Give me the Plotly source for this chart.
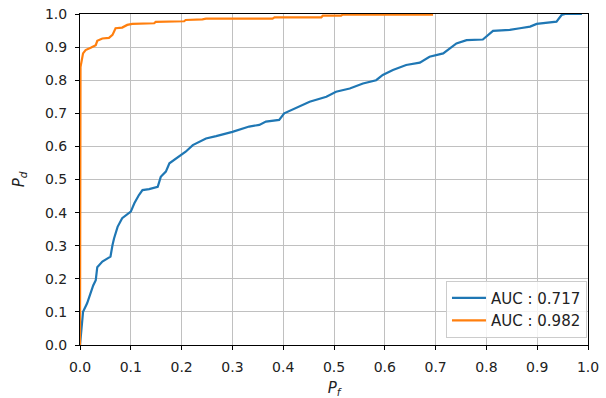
import plotly.graph_objects as go

# ROC curve 1 (AUC 0.717)
fpr_a = [0.0, 0.0, 0.003, 0.006, 0.014, 0.021, 0.026, 0.031, 0.034, 0.044, 0.06, 0.064,
         0.067, 0.074, 0.083, 0.1, 0.107, 0.116, 0.123, 0.136, 0.153, 0.159, 0.169, 0.176,
         0.189, 0.199, 0.208, 0.222, 0.248, 0.268, 0.3, 0.333, 0.353, 0.366, 0.392, 0.402,
         0.425, 0.452, 0.485, 0.504, 0.531, 0.557, 0.583, 0.596, 0.616, 0.642, 0.669, 0.688,
         0.715, 0.741, 0.761, 0.793, 0.813, 0.846, 0.866, 0.886, 0.899, 0.938, 0.948, 0.955,
         0.988]
tpr_a = [0.0, 0.0, 0.066, 0.10, 0.126, 0.161, 0.18, 0.196, 0.235, 0.252, 0.267, 0.302,
         0.322, 0.357, 0.383, 0.403, 0.428, 0.453, 0.468, 0.471, 0.478, 0.508, 0.524, 0.549,
         0.564, 0.574, 0.584, 0.604, 0.624, 0.631, 0.644, 0.66, 0.665, 0.675, 0.68, 0.70,
         0.715, 0.735, 0.75, 0.765, 0.775, 0.79, 0.80, 0.816, 0.831, 0.846, 0.853, 0.871,
         0.881, 0.911, 0.921, 0.923, 0.949, 0.952, 0.957, 0.962, 0.970, 0.977, 0.997, 1.0,
         1.0]

# ROC curve 2 (AUC 0.982)
fpr_b = [0.0, 0.0, 0.0, 0.001, 0.006, 0.011, 0.021, 0.031, 0.034, 0.044, 0.057, 0.064,
         0.07, 0.083, 0.093, 0.103, 0.146, 0.149, 0.205, 0.208, 0.241, 0.248, 0.274, 0.379,
         0.383, 0.475, 0.478, 0.514, 0.517, 0.695]
tpr_b = [0.0, 0.0, 0.685, 0.84, 0.881, 0.891, 0.898, 0.906, 0.919, 0.926, 0.928, 0.937,
         0.957, 0.959, 0.967, 0.97, 0.972, 0.976, 0.978, 0.982, 0.984, 0.986, 0.986, 0.986,
         0.99, 0.99, 0.995, 0.995, 0.998, 0.998]

labels = ["AUC : 0.717", "AUC : 0.982"]
colors = ["#1f77b4", "#ff7f0e"]

tick_vals = [i / 10 for i in range(11)]
tick_text = [f"{v:.1f}" for v in tick_vals]

fig = go.Figure()
fig.add_trace(go.Scatter(x=fpr_a, y=tpr_a, mode="lines", name=labels[0],
                         line=dict(color=colors[0], width=2.2)))
fig.add_trace(go.Scatter(x=fpr_b, y=tpr_b, mode="lines", name=labels[1],
                         line=dict(color=colors[1], width=2.2)))

axis_common = dict(
    range=[0, 1], tickvals=tick_vals, ticktext=tick_text, automargin=False,
    showgrid=True, gridcolor="#c0c0c0", gridwidth=1,
    showline=True, linecolor="black", linewidth=1, mirror=True,
    ticks="outside", ticklen=4, tickcolor="black", tickwidth=1,
    ticklabelstandoff=5,
    zeroline=False, tickfont=dict(family="DejaVu Sans", size=14, color="#222222"),
)

fig.update_layout(
    template="none",
    width=606, height=398,
    margin=dict(l=80, r=18, t=14, b=53, pad=0),
    paper_bgcolor="white", plot_bgcolor="white",
    font=dict(family="DejaVu Sans", size=14, color="#222222"),
    xaxis=dict(**axis_common,
               title=dict(text="<i>P</i><sub><i>f</i></sub>", standoff=10,
                          font=dict(family="DejaVu Sans", size=15))),
    yaxis=dict(**axis_common,
               title=dict(text="<i>P</i><sub><i>d</i></sub>", standoff=16,
                          font=dict(family="DejaVu Sans", size=15))),
    legend=dict(x=0.998, y=0.022, xanchor="right", yanchor="bottom",
                bgcolor="rgba(255,255,255,0.8)", bordercolor="#cccccc", borderwidth=1,
                itemwidth=34, font=dict(family="DejaVu Sans", size=15, color="#222222"),
                tracegroupgap=0),
    showlegend=True,
)

fig.write_html("out.html", config={"displayModeBar": False})

with open("out.html", "r", encoding="utf-8") as f:
    html = f.read()
html = html.replace("<head>", "<head><style>html,body{margin:0;padding:0;overflow:hidden;}</style>", 1)
with open("out.html", "w", encoding="utf-8") as f:
    f.write(html)
